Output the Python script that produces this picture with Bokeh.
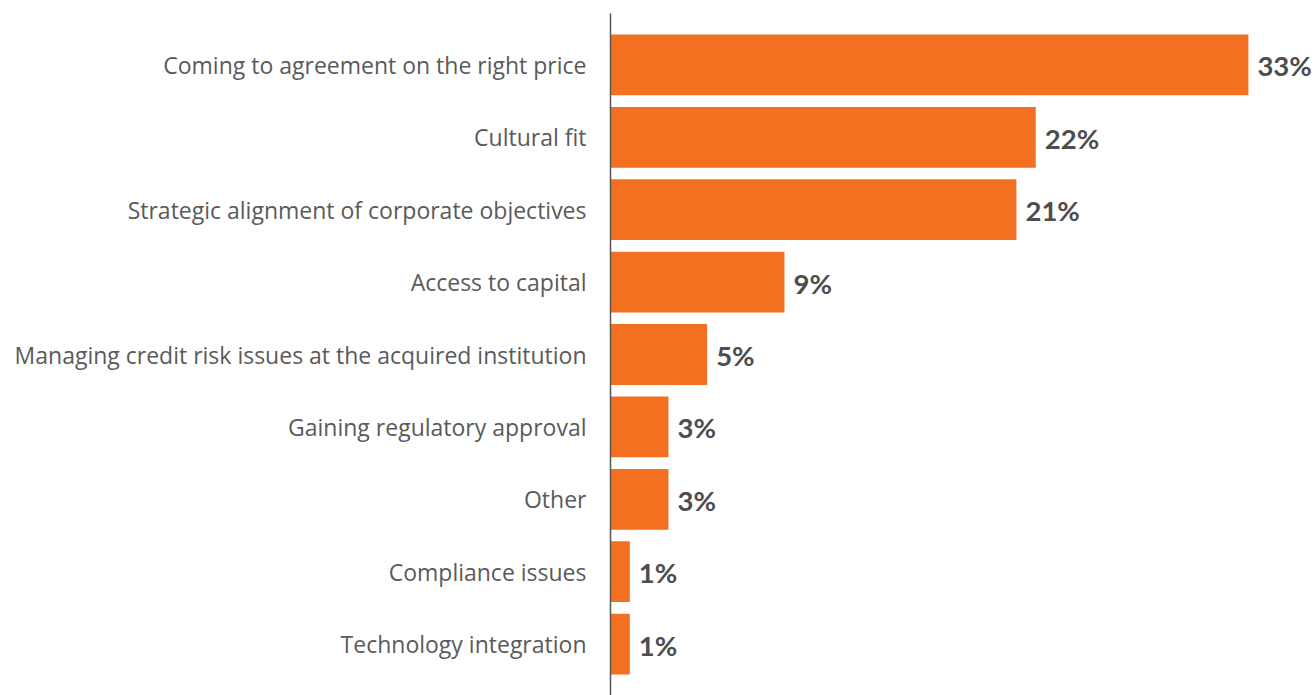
from bokeh.plotting import figure
from bokeh.models import FactorRange, Range1d, ColumnDataSource
from bokeh.core.properties import value
from bokeh.embed import file_html
from bokeh.resources import INLINE

categories = [
    "Coming to agreement on the right price",
    "Cultural fit",
    "Strategic alignment of corporate objectives",
    "Access to capital",
    "Managing credit risk issues at the acquired institution",
    "Gaining regulatory approval",
    "Other",
    "Compliance issues",
    "Technology integration",
]
values = [33, 22, 21, 9, 5, 3, 3, 1, 1]
labels = [f"{v}%" for v in values]

src = ColumnDataSource(dict(cat=categories, val=values, lab=labels))

W = 1314
LEFT = 610
p = figure(
    width=W, height=695,
    y_range=FactorRange(factors=list(reversed(categories)),
                        range_padding=0.21, range_padding_units="absolute"),
    x_range=Range1d(0, (W - LEFT) / 19.33),
    output_backend="svg", toolbar_location=None,
    min_border_left=LEFT, min_border_right=0, min_border_top=13, min_border_bottom=0,
)
p.outline_line_color = None
p.background_fill_color = "white"
p.border_fill_color = "white"
p.xgrid.visible = False
p.ygrid.visible = False
p.xaxis.visible = False

p.hbar(y="cat", left=0, right="val", height=0.84, source=src,
       fill_color="#F37021", line_color=None)

p.text(x="val", y="cat", text="lab", source=src, x_offset=9, y_offset=1,
       text_align="left", text_baseline="middle",
       text_font=value("Lato"), text_font_size="27.5px", text_font_style="bold",
       text_color="#4d4d4d")

ax = p.yaxis[0]
ax.axis_line_color = "#555555"
ax.axis_line_width = 1.5
ax.major_tick_line_color = None
ax.minor_tick_line_color = None
ax.major_tick_in = 0
ax.major_tick_out = 0
ax.major_label_standoff = 24
ax.major_label_text_font = "Open Sans"
ax.major_label_text_font_size = "23px"
ax.major_label_text_color = "#5a5a5a"

open("out.html", "w").write(file_html(p, INLINE))
